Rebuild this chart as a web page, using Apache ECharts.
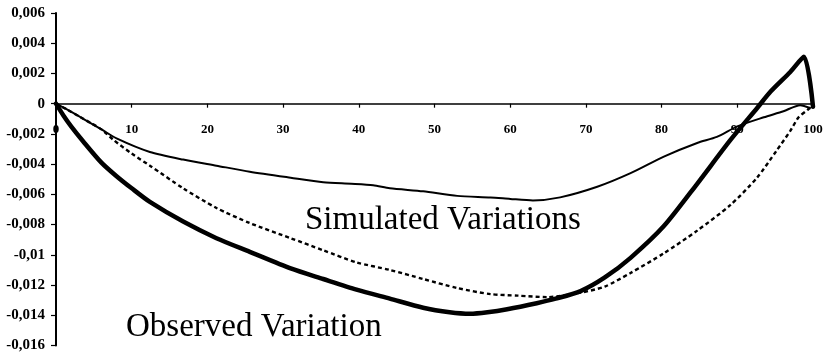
<!DOCTYPE html>
<html>
<head>
<meta charset="utf-8">
<title>Observed and simulated variations</title>
<script src="https://cdn.jsdelivr.net/npm/echarts@6/dist/echarts.min.js"></script>
<style>
  html, body { margin: 0; padding: 0; background: #fff; }
  #chart { width: 829px; height: 353px; }
</style>
</head>
<body>
<div id="chart"></div>
<script>
// Observed variation (thick solid)
var observedX = [0, 1, 2, 3.6, 6, 8, 10, 12.4, 16.8, 21.2, 25.6, 31, 35.3, 39.7, 44.1, 48.5, 52, 54.7, 57, 59.6, 63.5, 66, 69.3, 72.5, 75.9, 80.3, 84.7, 89.1, 92.6, 94.4, 97, 98.8, 100];
var observedY = [0, -0.0008, -0.0015, -0.0025, -0.0039, -0.0048, -0.0056, -0.0065, -0.0078, -0.0089, -0.0098, -0.0109, -0.0116, -0.0123, -0.0129, -0.0135, -0.0138, -0.0139, -0.0138, -0.0136, -0.0132, -0.0129, -0.0124, -0.0115, -0.0102, -0.0081, -0.0053, -0.0024, -0.0003, 0.0008, 0.0021, 0.0031, -0.0002];

// Simulated variation A (thin solid)
var simAX = [0, 1.5, 3.6, 6, 8, 12.4, 16.8, 21.2, 25.6, 31, 35.3, 39, 41.9, 44.1, 48.5, 53, 57.4, 60, 63, 66.6, 71.5, 75.9, 80.3, 84.7, 87.3, 90, 93.5, 96.1, 98.3, 99.7];
var simAY = [0, -0.0004, -0.0010, -0.0017, -0.0023, -0.0032, -0.0037, -0.0041, -0.0045, -0.0049, -0.0052, -0.0053, -0.0054, -0.0056, -0.0058, -0.0061, -0.0062, -0.0063, -0.0064, -0.0062, -0.0055, -0.0046, -0.0035, -0.0026, -0.0022, -0.0015, -0.0009, -0.0005, -0.0001, -0.0003];

// Simulated variation B (dashed)
var simBX = [0, 1.5, 3.6, 6, 7.6, 10, 12.4, 16.8, 21.2, 25.6, 31, 35.3, 39.7, 44.1, 48.5, 53, 57.4, 61, 64.9, 69.3, 72.5, 75.9, 80.3, 84.7, 89.1, 92.6, 95.2, 97, 98.1, 99.3, 100];
var simBY = [0, -0.0004, -0.0010, -0.0017, -0.0024, -0.0033, -0.0041, -0.0056, -0.0069, -0.0079, -0.0089, -0.0097, -0.0105, -0.0110, -0.0116, -0.0122, -0.0126, -0.0127, -0.0128, -0.0125, -0.0121, -0.0112, -0.0099, -0.0084, -0.0067, -0.0049, -0.0031, -0.0018, -0.0009, -0.0004, -0.0001];

// Axis ranges and annotation texts
var xRange = { min: 0, max: 100, step: 10 };
var yRange = { min: -0.016, max: 0.006, step: 0.002 };
var labelSimulated = 'Simulated Variations';
var labelObserved = 'Observed Variation';

function pairs(xs, ys) {
  return xs.map(function (x, i) { return [x, ys[i]]; });
}

var serif = "'Liberation Serif', 'Times New Roman', serif";

var W = 829, H = 353;
var gridBox = { left: 56, right: 16, top: 13, bottom: 7.5 };
var plotH = H - gridBox.top - gridBox.bottom;
// distance from the bottom edge of the plot up to the y = 0 line
var zeroOffset = plotH * (0 - yRange.min) / (yRange.max - yRange.min);

var chart = echarts.init(document.getElementById('chart'), null, { renderer: 'canvas', width: W, height: H });

chart.setOption({
  backgroundColor: '#ffffff',
  animation: false,
  grid: {
    left: gridBox.left, right: gridBox.right, top: gridBox.top, bottom: gridBox.bottom,
    containLabel: false, outerBoundsMode: 'none'
  },
  xAxis: {
    type: 'value', position: 'bottom', offset: -zeroOffset,
    min: xRange.min, max: xRange.max, interval: xRange.step,
    axisLine: { onZero: false, lineStyle: { color: '#000', width: 1.5 } },
    axisTick: { show: true, length: 4, lineStyle: { color: '#000', width: 1.2 } },
    axisLabel: {
      margin: 19, color: '#000', fontFamily: serif, fontWeight: 'bold', fontSize: 13
    },
    splitLine: { show: false }
  },
  yAxis: {
    type: 'value',
    min: yRange.min, max: yRange.max, interval: yRange.step,
    axisLine: { show: true, lineStyle: { color: '#000', width: 2 } },
    axisTick: { show: true, length: 5, lineStyle: { color: '#000', width: 1.2 } },
    axisLabel: {
      margin: 11, color: '#000', fontFamily: serif, fontWeight: 'bold', fontSize: 15,
      formatter: function (v) {
        var r = Math.round(v * 1000) / 1000;
        return String(r).replace('.', ',');
      }
    },
    splitLine: { show: false }
  },
  series: [
    {
      name: 'Observed Variation', type: 'line', data: pairs(observedX, observedY),
      showSymbol: false, smooth: 0.25,
      lineStyle: { color: '#000', width: 4.5, join: 'round', cap: 'round' }, z: 3
    },
    {
      name: 'Simulated A', type: 'line', data: pairs(simAX, simAY),
      showSymbol: false, smooth: 0.25,
      lineStyle: { color: '#000', width: 2 }, z: 2
    },
    {
      name: 'Simulated B', type: 'line', data: pairs(simBX, simBY),
      showSymbol: false, smooth: 0.25,
      lineStyle: { color: '#000', width: 2.4, type: [4, 3] }, z: 2
    }
  ],
  graphic: [
    {
      type: 'text', x: 305, y: 220,
      style: { text: labelSimulated, font: '33px ' + serif, fill: '#000', verticalAlign: 'middle' }
    },
    {
      type: 'text', x: 126, y: 327,
      style: { text: labelObserved, font: '33px ' + serif, fill: '#000', verticalAlign: 'middle' }
    }
  ]
});
</script>
</body>
</html>
